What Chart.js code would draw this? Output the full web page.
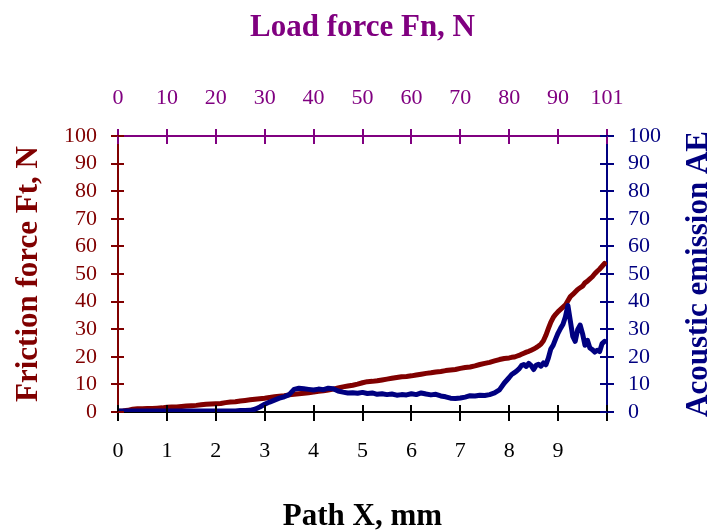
<!DOCTYPE html>
<html>
<head>
<meta charset="utf-8">
<script src="https://cdn.jsdelivr.net/npm/chart.js@4"></script>
<style>
  body { margin: 0; background: #fff; }
</style>
</head>
<body>
<canvas id="frictionChart" width="713" height="532"></canvas>
<script>
// Path X, mm (finer steps where the curves get busy)
const pathX = [
    0.0, 0.1, 0.2, 0.3, 0.4, 0.5, 0.6, 0.7, 0.8, 0.9,
    1.0, 1.1, 1.2, 1.3, 1.4, 1.5, 1.6, 1.7, 1.8, 1.9,
    2.0, 2.1, 2.2, 2.3, 2.4, 2.5, 2.6, 2.7, 2.8, 2.9,
    3.0, 3.1, 3.2, 3.3, 3.4, 3.5, 3.6, 3.7, 3.8, 3.9,
    4.0, 4.1, 4.2, 4.3, 4.4, 4.5, 4.6, 4.7, 4.8, 4.9,
    5.0, 5.1, 5.2, 5.3, 5.4, 5.5, 5.6, 5.7, 5.8, 5.9,
    6.0, 6.1, 6.2, 6.3, 6.4, 6.5, 6.6, 6.7, 6.8, 6.9,
    7.0, 7.1, 7.2, 7.3, 7.4, 7.5, 7.6, 7.7, 7.8, 7.9,
    8.0, 8.05, 8.1, 8.15, 8.2, 8.25, 8.3, 8.35, 8.4, 8.45,
    8.5, 8.55, 8.6, 8.65, 8.7, 8.75, 8.8, 8.85, 8.9, 8.95,
    9.0, 9.05, 9.1, 9.15, 9.2, 9.25, 9.3, 9.35, 9.4, 9.45,
    9.5, 9.55, 9.6, 9.65, 9.7, 9.75, 9.8, 9.85, 9.9, 9.95
];

// Friction force Ft, N
const frictionForce = [
    0.3, 0.4, 0.6, 1.0, 1.2, 1.2, 1.3, 1.3, 1.4, 1.5,
    1.7, 1.8, 1.8, 2.0, 2.2, 2.3, 2.4, 2.6, 2.8, 2.9,
    3.0, 3.1, 3.4, 3.6, 3.7, 4.0, 4.2, 4.4, 4.6, 4.8,
    5.0, 5.3, 5.5, 5.7, 5.9, 6.2, 6.4, 6.6, 6.8, 7.0,
    7.2, 7.5, 7.7, 8.0, 8.3, 8.7, 9.1, 9.4, 9.7, 10.1,
    10.6, 11.0, 11.1, 11.3, 11.6, 11.9, 12.2, 12.5, 12.8, 12.9,
    13.1, 13.4, 13.7, 14.0, 14.2, 14.5, 14.7, 15.0, 15.2, 15.4,
    15.8, 16.1, 16.3, 16.7, 17.2, 17.6, 18.0, 18.5, 19.0, 19.4,
    19.6, 19.8, 19.9, 20.2, 20.5, 20.9, 21.3, 21.7, 22.0, 22.4,
    22.8, 23.3, 23.9, 24.6, 25.8, 27.8, 30.2, 32.5, 34.2, 35.4,
    36.4, 37.2, 38.0, 38.8, 40.3, 41.8, 42.6, 43.5, 44.4, 45.0,
    45.6, 46.8, 47.4, 48.2, 49.0, 50.1, 51.0, 51.8, 52.8, 53.8
];

// Acoustic emission AE
const acousticEmission = [
    0.4, 0.4, 0.4, 0.4, 0.4, 0.4, 0.4, 0.4, 0.4, 0.4,
    0.4, 0.4, 0.4, 0.4, 0.4, 0.4, 0.4, 0.4, 0.4, 0.4,
    0.4, 0.4, 0.4, 0.4, 0.4, 0.5, 0.5, 0.6, 1.0, 1.8,
    2.8, 3.6, 4.3, 5.0, 5.5, 6.3, 8.2, 8.6, 8.4, 8.2,
    8.0, 8.3, 8.1, 8.6, 8.4, 7.6, 7.2, 6.9, 7.0, 6.8,
    7.1, 6.7, 6.9, 6.4, 6.6, 6.3, 6.5, 6.1, 6.3, 6.2,
    6.6, 6.3, 6.9, 6.5, 6.2, 6.4, 5.8, 5.5, 5.0, 4.9,
    5.1, 5.4, 5.9, 5.8, 6.1, 6.0, 6.3, 6.9, 8.0, 10.5,
    12.5, 13.6, 14.2, 14.8, 15.6, 16.8, 17.2, 16.5, 17.6, 16.8,
    15.4, 16.9, 17.3, 16.6, 17.8, 17.1, 19.5, 22.8, 24.2, 26.5,
    28.6, 30.3, 31.8, 34.5, 38.6, 33.0, 27.4, 25.6, 29.8, 31.5,
    28.4, 24.2, 26.0, 23.2, 22.6, 21.7, 22.4, 21.9, 24.8, 25.6
];

// Tick labels
const pathTickLabels = ['0', '1', '2', '3', '4', '5', '6', '7', '8', '9', ''];
const loadTickLabels = ['0', '10', '20', '30', '40', '50', '60', '70', '80', '90', '101'];

const frictionColor = '#800000';
const emissionColor = '#000080';
const loadColor = '#800080';
const serif = 'Liberation Serif';

const tickFont = { family: serif, size: 22 };
const titleFont = { family: serif, size: 31, weight: 'bold' };

// Chart.js only draws ticks outside the axis; these go inward
const innerTicks = {
    id: 'innerTicks',
    afterDraw(chart) {
        const ctx = chart.ctx;
        const defs = [
            { id: 'x', len: 7, color: '#000' },
            { id: 'x2', len: 8, color: loadColor },
            { id: 'y', len: 6, color: frictionColor },
            { id: 'y2', len: 7, color: emissionColor }
        ];
        ctx.save();
        ctx.lineWidth = 2;
        defs.forEach(d => {
            const s = chart.scales[d.id];
            ctx.strokeStyle = d.color;
            s.ticks.forEach(t => {
                const p = Math.round(s.getPixelForValue(t.value));
                ctx.beginPath();
                if (d.id === 'x') { ctx.moveTo(p, s.top); ctx.lineTo(p, s.top - d.len); }
                if (d.id === 'x2') { ctx.moveTo(p, s.bottom); ctx.lineTo(p, s.bottom + d.len); }
                if (d.id === 'y') { ctx.moveTo(s.right, p); ctx.lineTo(s.right + d.len, p); }
                if (d.id === 'y2') { ctx.moveTo(s.left, p); ctx.lineTo(s.left - d.len, p); }
                ctx.stroke();
            });
        });
        ctx.restore();
    }
};

// Right-hand title reads bottom to top, like the left one
const rightTitle = {
    id: 'rightTitle',
    afterDraw(chart) {
        const s = chart.scales.y2;
        const ctx = chart.ctx;
        ctx.save();
        ctx.translate(s.right - 14, (s.top + s.bottom) / 2);
        ctx.rotate(-Math.PI / 2);
        ctx.font = 'bold 31px "Liberation Serif"';
        ctx.fillStyle = emissionColor;
        ctx.textAlign = 'center';
        ctx.textBaseline = 'middle';
        ctx.fillText('Acoustic emission AE', 0, 0);
        ctx.restore();
    }
};

new Chart(document.getElementById('frictionChart'), {
    type: 'line',
    data: {
        labels: pathX,
        datasets: [{
            label: 'Friction force Ft, N',
            data: pathX.map((x, i) => ({ x: x, y: frictionForce[i] })),
            borderColor: frictionColor,
            borderWidth: 5,
            pointRadius: 0,
            borderJoinStyle: 'round',
            borderCapStyle: 'round',
            xAxisID: 'x',
            yAxisID: 'y',
            order: 2
        }, {
            label: 'Acoustic emission AE',
            data: pathX.map((x, i) => ({ x: x, y: acousticEmission[i] })),
            borderColor: emissionColor,
            borderWidth: 5,
            pointRadius: 0,
            borderJoinStyle: 'round',
            borderCapStyle: 'round',
            xAxisID: 'x',
            yAxisID: 'y2',
            order: 1
        }]
    },
    options: {
        responsive: false,
        animation: false,
        devicePixelRatio: 1,
        layout: { padding: 0 },
        plugins: {
            legend: { display: false },
            tooltip: { enabled: false }
        },
        scales: {
            x: {
                type: 'linear',
                position: 'bottom',
                min: 0,
                max: 10,
                ticks: {
                    stepSize: 1,
                    autoSkip: false,
                    maxRotation: 0,
                    color: '#000',
                    font: tickFont,
                    padding: 17,
                    callback: (v, i) => pathTickLabels[i]
                },
                grid: { drawOnChartArea: false, color: '#000', lineWidth: 2, tickLength: 9 },
                border: { color: '#000', width: 2 },
                title: {
                    display: true,
                    text: 'Path X, mm',
                    color: '#000',
                    font: { family: serif, size: 31, weight: 'bold', lineHeight: 1.0 },
                    padding: { top: 0, bottom: 0 }
                },
                afterFit: s => { s.height = 120; }
            },
            x2: {
                type: 'linear',
                position: 'top',
                min: 0,
                max: 100,
                ticks: {
                    stepSize: 10,
                    autoSkip: false,
                    maxRotation: 0,
                    color: loadColor,
                    font: tickFont,
                    padding: 18,
                    callback: (v, i) => loadTickLabels[i]
                },
                grid: { drawOnChartArea: false, color: loadColor, lineWidth: 2, tickLength: 7 },
                border: { color: loadColor, width: 2 },
                title: {
                    display: true,
                    text: 'Load force Fn, N',
                    color: loadColor,
                    font: titleFont,
                    padding: { top: 9, bottom: 0 }
                },
                afterFit: s => { s.height = 136; }
            },
            y: {
                position: 'left',
                min: 0,
                max: 100,
                ticks: {
                    stepSize: 10,
                    autoSkip: false,
                    color: frictionColor,
                    font: tickFont,
                    padding: 14
                },
                grid: { drawOnChartArea: false, color: frictionColor, lineWidth: 2, tickLength: 7 },
                border: { color: frictionColor, width: 2 },
                title: {
                    display: true,
                    text: 'Friction force Ft, N',
                    color: frictionColor,
                    font: titleFont,
                    padding: { top: 10, bottom: 0 }
                },
                afterFit: s => { s.width = 118; }
            },
            y2: {
                position: 'right',
                min: 0,
                max: 100,
                ticks: {
                    stepSize: 10,
                    autoSkip: false,
                    color: emissionColor,
                    font: tickFont,
                    padding: 14
                },
                grid: { drawOnChartArea: false, color: emissionColor, lineWidth: 2, tickLength: 7 },
                border: { color: emissionColor, width: 2 },
                afterFit: s => { s.width = 106; }
            }
        }
    },
    plugins: [innerTicks, rightTitle]
});
</script>
</body>
</html>
